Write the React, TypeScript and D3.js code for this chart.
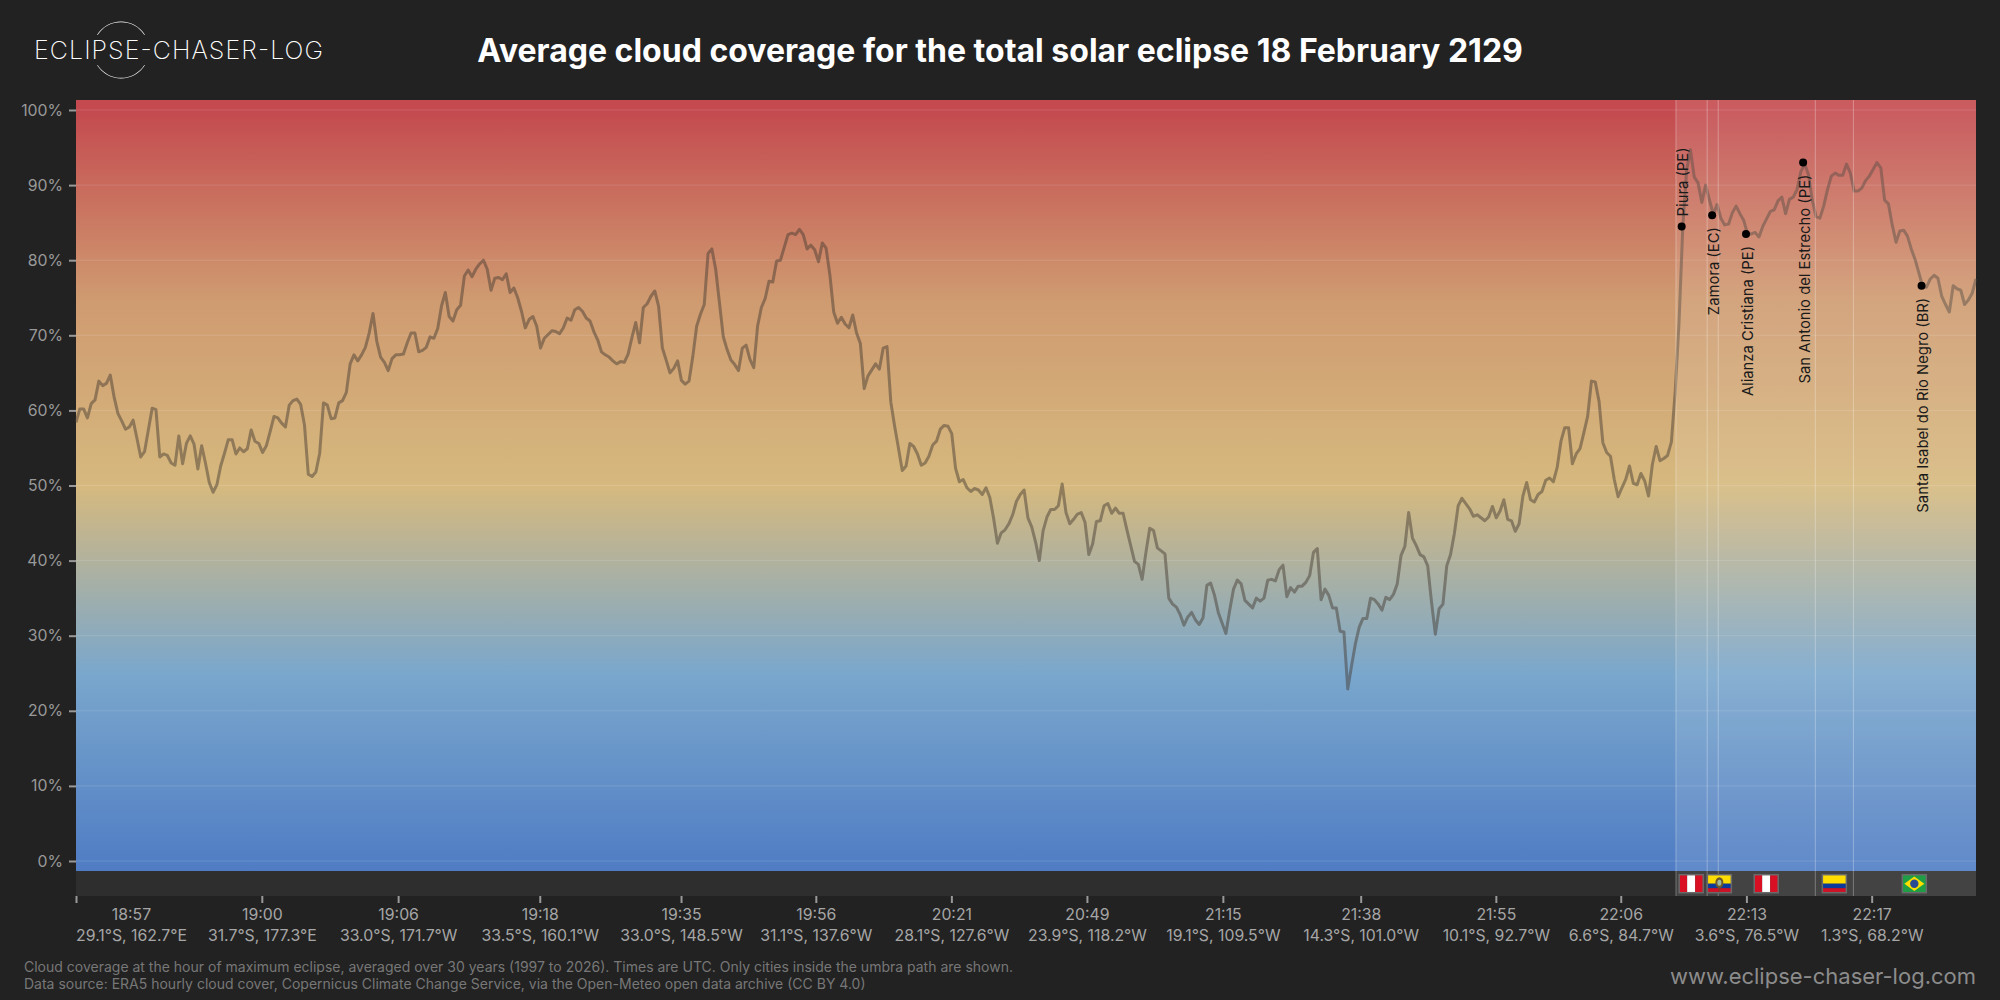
import * as React from 'react';
import * as d3 from 'd3';

const cloudCover = [
  58.4,60.2,60.2,59.0,60.9,61.4,63.9,63.3,63.6,64.7,
  61.8,59.6,58.6,57.5,57.8,58.7,56.3,53.8,54.5,57.4,
  60.3,60.1,53.8,54.2,54.0,53.0,52.7,56.6,52.9,55.6,
  56.6,55.5,52.2,55.3,53.0,50.4,49.1,50.1,52.6,54.3,
  56.1,56.1,54.2,55.0,54.5,54.9,57.4,55.9,55.6,54.4,
  55.3,57.2,59.2,59.0,58.3,57.8,60.7,61.3,61.5,60.8,
  58.1,51.5,51.2,51.8,54.3,61.0,60.7,58.9,59.0,61.0,
  61.3,62.4,66.2,67.4,66.6,67.4,68.4,70.3,72.9,69.2,
  67.1,66.4,65.3,66.9,67.4,67.4,67.5,69.0,70.3,70.3,
  67.8,68.0,68.4,69.8,69.6,70.9,73.9,75.7,72.5,71.9,
  73.4,74.0,77.9,78.7,77.8,78.8,79.5,80.0,78.8,76.0,
  77.6,77.7,77.4,78.2,75.7,76.3,75.0,73.2,71.0,
  72.1,72.5,71.2,68.3,69.6,70.1,70.6,70.5,70.2,71.0,
  72.3,72.0,73.4,73.7,73.2,72.3,71.9,70.5,69.4,67.8,
  67.4,67.1,66.6,66.2,66.5,66.4,67.5,69.7,71.7,69.0,
  73.7,74.2,75.2,75.9,73.9,68.3,66.7,65.0,65.6,66.6,
  64.0,63.5,63.9,67.2,71.2,72.8,74.1,80.9,81.5,78.8,
  74.3,69.8,68.1,66.7,66.1,65.3,68.3,68.7,66.8,65.7,
  71.2,73.7,74.9,77.2,77.1,79.9,80.0,81.7,83.4,83.6,
  83.4,84.1,83.4,81.5,82.0,81.4,79.8,82.3,81.6,78.0,
  73.1,71.6,72.4,71.5,71.0,72.7,70.3,68.9,62.9,64.6,
  65.4,66.2,65.5,68.3,68.5,61.1,57.9,55.0,52.0,52.6,
  55.6,55.2,54.2,52.7,53.0,53.9,55.4,55.9,57.5,58.0,
  57.9,56.9,52.3,50.5,50.8,49.7,49.2,49.6,49.4,48.8,
  49.7,48.4,45.6,
  42.3,43.7,44.1,44.9,46.1,47.9,48.8,49.4,45.7,44.5,
  42.5,40.0,44.0,45.8,46.8,46.8,47.3,50.2,46.4,44.9,
  45.5,46.2,46.4,45.1,40.8,42.2,45.2,45.3,47.3,47.6,
  46.3,47.0,46.3,46.3,44.1,42.0,39.9,39.5,37.5,41.1,
  44.3,44.0,41.7,41.3,40.9,35.0,34.2,33.8,32.8,31.4,
  32.5,33.1,32.1,31.5,32.4,36.7,37.0,35.4,33.1,31.7,
  30.3,33.4,36.2,37.4,36.9,34.7,34.2,33.7,35.0,34.6,
  35.0,37.4,37.5,37.3,38.8,39.4,35.2,36.4,35.8,36.6,
  36.6,37.1,38.0,41.1,41.6,34.8,36.2,35.4,33.7,33.7,
  30.6,30.5,22.9,26.0,28.9,31.1,32.3,32.3,35.0,34.8,
  34.2,33.4,35.1,34.8,35.5,36.9,40.7,41.9,46.4,43.0,
  42.0,40.8,40.5,39.3,34.5,30.2,33.6,34.2,39.3,40.8,
  43.6,47.3,
  48.3,47.6,46.9,45.9,46.1,45.7,45.3,45.8,47.2,45.7,
  46.6,48.1,45.5,45.3,43.9,44.9,48.6,50.4,48.1,47.8,
  48.8,49.2,50.7,51.0,50.5,52.4,55.9,57.7,57.7,52.9,
  54.2,54.9,57.0,59.2,63.9,63.8,61.2,55.7,54.4,53.9,
  50.8,48.5,49.7,50.8,52.6,50.3,50.1,51.6,50.6,48.6,
  52.8,55.2,53.3,53.6,54.0,55.8,
  62.5,71.6,84.5,92.0,94.7,91.1,90.3,87.7,90.0,88.0,
  86.1,87.4,85.6,84.7,84.8,86.3,87.2,86.2,85.3,83.5,
  83.5,83.7,83.1,84.5,85.5,86.5,86.7,87.9,88.4,86.2,
  88.1,88.4,89.4,91.8,92.8,91.4,88.0,85.8,85.6,87.2,
  89.4,91.2,91.6,91.3,91.3,92.8,91.6,89.2,89.2,89.6,
  90.6,91.2,92.1,93.0,92.3,88.0,87.5,84.7,82.4,83.9,
  84.0,83.2,81.5,80.1,78.3,76.5,76.4,77.5,78.0,77.6,
  75.2,74.1,73.1,76.6,76.2,76.0,74.1,74.7,75.6,77.5,
];

const coverTicks = [0, 10, 20, 30, 40, 50, 60, 70, 80, 90, 100];

const tickSteps = [0, 48.8, 84.6, 121.8, 158.9, 194.3, 229.9, 265.5, 301.2, 337.4, 372.9, 405.7, 438.7, 471.6];
const tickTimes = ['18:57', '19:00', '19:06', '19:18', '19:35', '19:56', '20:21', '20:49', '21:15', '21:38', '21:55', '22:06', '22:13', '22:17'];
const tickPlaces = [
  '29.1°S, 162.7°E', '31.7°S, 177.3°E', '33.0°S, 171.7°W', '33.5°S, 160.1°W', '33.0°S, 148.5°W',
  '31.1°S, 137.6°W', '28.1°S, 127.6°W', '23.9°S, 118.2°W', '19.1°S, 109.5°W', '14.3°S, 101.0°W',
  '10.1°S, 92.7°W', '6.6°S, 84.7°W', '3.6°S, 76.5°W', '1.3°S, 68.2°W',
];

const cityNames = ['Piura (PE)', 'Zamora (EC)', 'Alianza Cristiana (PE)', 'San Antonio del Estrecho (PE)', 'Santa Isabel do Rio Negro (BR)'];
const citySteps = [421.7, 429.7, 438.6, 453.6, 484.7];
const cityCover = [84.5, 86.0, 83.5, 93.0, 76.6];

const borderSteps = [420.2, 428.4, 431.3, 456.8, 466.8];
const flagCodes = ['PE', 'EC', 'PE', 'CO', 'BR'];
const flagSteps = [424.2, 431.6, 443.9, 461.8, 482.8];

const gradientCover = [101.3, 100, 75, 50, 25, -1.3];
const gradientColors = ['#c44a4f', '#c44a4f', '#cf9a70', '#d6b97e', '#7aa7cc', '#4f7cc4'];

const width = 2000;
const height = 1000;
const plotLeft = 76;
const plotRight = 1976;
const plotTop = 100;
const plotBottom = 871;
const stripBottom = 896;

const drawFlag = (g: any, code: string) => {
  const w = 24, h = 18;
  const band = (bx: number, by: number, bw: number, bh: number, c: string) =>
    g.append('rect').attr('x', bx).attr('y', by).attr('width', bw).attr('height', bh).attr('fill', c);
  if (code === 'PE') {
    band(-w / 2, -h / 2, w / 3, h, '#d91023');
    band(-w / 6, -h / 2, w / 3, h, '#ffffff');
    band(w / 6, -h / 2, w / 3, h, '#d91023');
  } else if (code === 'BR') {
    band(-w / 2, -h / 2, w, h, '#1f9e45');
    g.append('polygon').attr('points', '-10,0 0,-7.2 10,0 0,7.2').attr('fill', '#fedf00');
    g.append('circle').attr('r', 4.2).attr('fill', '#2b4a94');
  } else {
    band(-w / 2, -h / 2, w, h / 2, '#ffdd00');
    band(-w / 2, 0, w, h / 4, '#0b3a9c');
    band(-w / 2, h / 4, w, h / 4, '#ce1126');
    if (code === 'EC') {
      g.append('ellipse').attr('rx', 4).attr('ry', 5.5).attr('cy', -1).attr('fill', '#6d5a2c');
      g.append('ellipse').attr('rx', 2).attr('ry', 3).attr('cy', -1).attr('fill', '#9fb8a0');
      g.append('path').attr('d', 'M-1.5,4.5 L0,9 L1.5,4.5 Z').attr('fill', '#8a3a22');
    }
  }
  g.append('rect').attr('x', -w / 2).attr('y', -h / 2).attr('width', w).attr('height', h)
    .attr('fill', 'none').attr('stroke', '#6a6a6a').attr('stroke-width', 1.5);
};

export default function App() {
  const svg_root = React.useRef<SVGSVGElement>(null);

  React.useEffect(() => {
    const svg = d3.select(svg_root.current);
    svg.selectAll('*').remove();

    const x = d3.scaleLinear().domain([0, cloudCover.length - 1]).range([plotLeft, plotRight]);
    const y = d3.scaleLinear().domain([0, 100]).range([861, 110]);

    const grad = svg.append('defs').append('linearGradient')
      .attr('id', 'coverGradient')
      .attr('gradientUnits', 'userSpaceOnUse')
      .attr('x1', 0).attr('x2', 0)
      .attr('y1', y(gradientCover[0])).attr('y2', y(gradientCover[gradientCover.length - 1]));
    const gradOffset = d3.scaleLinear()
      .domain([gradientCover[0], gradientCover[gradientCover.length - 1]]).range([0, 1]);
    gradientCover.forEach((c, i) => {
      grad.append('stop').attr('offset', gradOffset(c)).attr('stop-color', gradientColors[i]);
    });

    svg.append('rect').attr('width', width).attr('height', height).attr('fill', '#222222');

    svg.append('rect').attr('x', plotLeft).attr('y', plotTop)
      .attr('width', plotRight - plotLeft).attr('height', plotBottom - plotTop)
      .attr('fill', 'url(#coverGradient)');
    svg.append('rect').attr('x', plotLeft).attr('y', plotBottom)
      .attr('width', plotRight - plotLeft).attr('height', stripBottom - plotBottom)
      .attr('fill', '#2e2e2e');

    // horizontal grid
    svg.append('g').selectAll('line').data(coverTicks).enter().append('line')
      .attr('x1', plotLeft).attr('x2', plotRight)
      .attr('y1', (d) => y(d)).attr('y2', (d) => y(d))
      .attr('stroke', 'rgba(255,255,255,0.13)').attr('stroke-width', 1);

    const line = d3.line<number>().x((_, i) => x(i)).y((d) => y(d)).curve(d3.curveLinear);
    svg.append('path').datum(cloudCover).attr('d', line)
      .attr('fill', 'none').attr('stroke', 'rgba(68,58,50,0.48)')
      .attr('stroke-width', 3).attr('stroke-linejoin', 'round');

    // part of the track over land, sits over the line
    const landStart = x(borderSteps[0]);
    svg.append('rect').attr('x', landStart).attr('y', plotTop)
      .attr('width', plotRight - landStart).attr('height', stripBottom - plotTop)
      .attr('fill', 'rgba(255,255,255,0.1)');
    svg.append('g').selectAll('line').data(borderSteps).enter().append('line')
      .attr('x1', (d) => x(d)).attr('x2', (d) => x(d))
      .attr('y1', plotTop).attr('y2', stripBottom)
      .attr('stroke', 'rgba(255,255,255,0.3)').attr('stroke-width', 1);

    // cities
    svg.append('g').selectAll('circle').data(citySteps).enter().append('circle')
      .attr('cx', (d) => x(d)).attr('cy', (_, i) => y(cityCover[i])).attr('r', 4)
      .attr('fill', '#000');
    svg.append('g').selectAll('text').data(cityNames).enter().append('text')
      .attr('transform', (_, i) => {
        const above = i === 0;
        return `translate(${x(citySteps[i]) + 6.5},${y(cityCover[i]) + (above ? -10 : 12)}) rotate(-90)`;
      })
      .attr('text-anchor', (_, i) => (i === 0 ? 'start' : 'end'))
      .attr('font-family', 'Inter').attr('font-size', 14.8).attr('fill', '#1a1a1a')
      .text((d) => d);

    // flags
    flagCodes.forEach((code, i) => {
      const g = svg.append('g').attr('transform', `translate(${x(flagSteps[i])},883.7)`);
      drawFlag(g, code);
    });

    // axes
    const yAxis = svg.append('g').attr('transform', `translate(${plotLeft},0)`)
      .call(d3.axisLeft(y).tickValues(coverTicks).tickFormat((d) => `${d}%`).tickSize(7).tickPadding(6));
    yAxis.select('.domain').remove();
    yAxis.selectAll('line').attr('stroke', '#999').attr('stroke-width', 2);
    yAxis.selectAll('text').attr('font-family', 'Inter').attr('font-size', 15.8).attr('fill', '#999');

    const xAxis = svg.append('g').attr('transform', `translate(0,${stripBottom})`)
      .call(d3.axisBottom(x).tickValues(tickSteps).tickFormat((_, i) => tickTimes[i]).tickSize(7).tickPadding(0));
    xAxis.select('.domain').remove();
    xAxis.selectAll('line').attr('stroke', '#999').attr('stroke-width', 2);
    xAxis.selectAll('.tick').each(function (_, i) {
      const tick = d3.select(this as any);
      const shift = i === 0 ? 55 : 0;
      tick.select('text')
        .attr('x', shift).attr('y', 24).attr('dy', null)
        .attr('font-family', 'Inter').attr('font-size', 15.8).attr('fill', '#a6a6a6');
      tick.append('text')
        .attr('x', shift).attr('y', 45).attr('text-anchor', 'middle')
        .attr('font-family', 'Inter').attr('font-size', 15.8).attr('fill', '#a6a6a6')
        .text(tickPlaces[i]);
    });

    // logo
    const logo = svg.append('g').attr('transform', 'translate(121,50)');
    const ring = d3.arc().innerRadius(27.8).outerRadius(28.4);
    logo.append('path').attr('d', ring({ startAngle: -1.0, endAngle: 1.0 } as any) as string).attr('fill', '#fff');
    logo.append('path').attr('d', ring({ startAngle: Math.PI - 1.0, endAngle: Math.PI + 1.0 } as any) as string).attr('fill', '#fff');
    svg.append('text').attr('x', 34).attr('y', 59)
      .attr('font-family', 'Inter').attr('font-weight', 200).attr('font-size', 25).attr('fill', '#fff')
      .attr('textLength', 289).attr('lengthAdjust', 'spacing')
      .text('ECLIPSE-CHASER-LOG');

    svg.append('text').attr('x', 1000).attr('y', 62).attr('text-anchor', 'middle')
      .attr('font-family', 'Inter').attr('font-weight', 700).attr('font-size', 32).attr('fill', '#fff')
      .text('Average cloud coverage for the total solar eclipse 18 February 2129');

    svg.append('text').attr('x', 24).attr('y', 972)
      .attr('font-family', 'Inter').attr('font-size', 14).attr('fill', '#777')
      .text('Cloud coverage at the hour of maximum eclipse, averaged over 30 years (1997 to 2026). Times are UTC. Only cities inside the umbra path are shown.');
    svg.append('text').attr('x', 24).attr('y', 989)
      .attr('font-family', 'Inter').attr('font-size', 14).attr('fill', '#777')
      .text('Data source: ERA5 hourly cloud cover, Copernicus Climate Change Service, via the Open-Meteo open data archive (CC BY 4.0)');
    svg.append('text').attr('x', plotRight).attr('y', 984).attr('text-anchor', 'end')
      .attr('font-family', 'Inter').attr('font-size', 22).attr('fill', '#8c8c8c')
      .text('www.eclipse-chaser-log.com');
  }, []);

  return (
    <svg ref={svg_root} width={width} height={height}
      style={{ position: 'absolute', left: 0, top: 0, display: 'block' }} />
  );
}
